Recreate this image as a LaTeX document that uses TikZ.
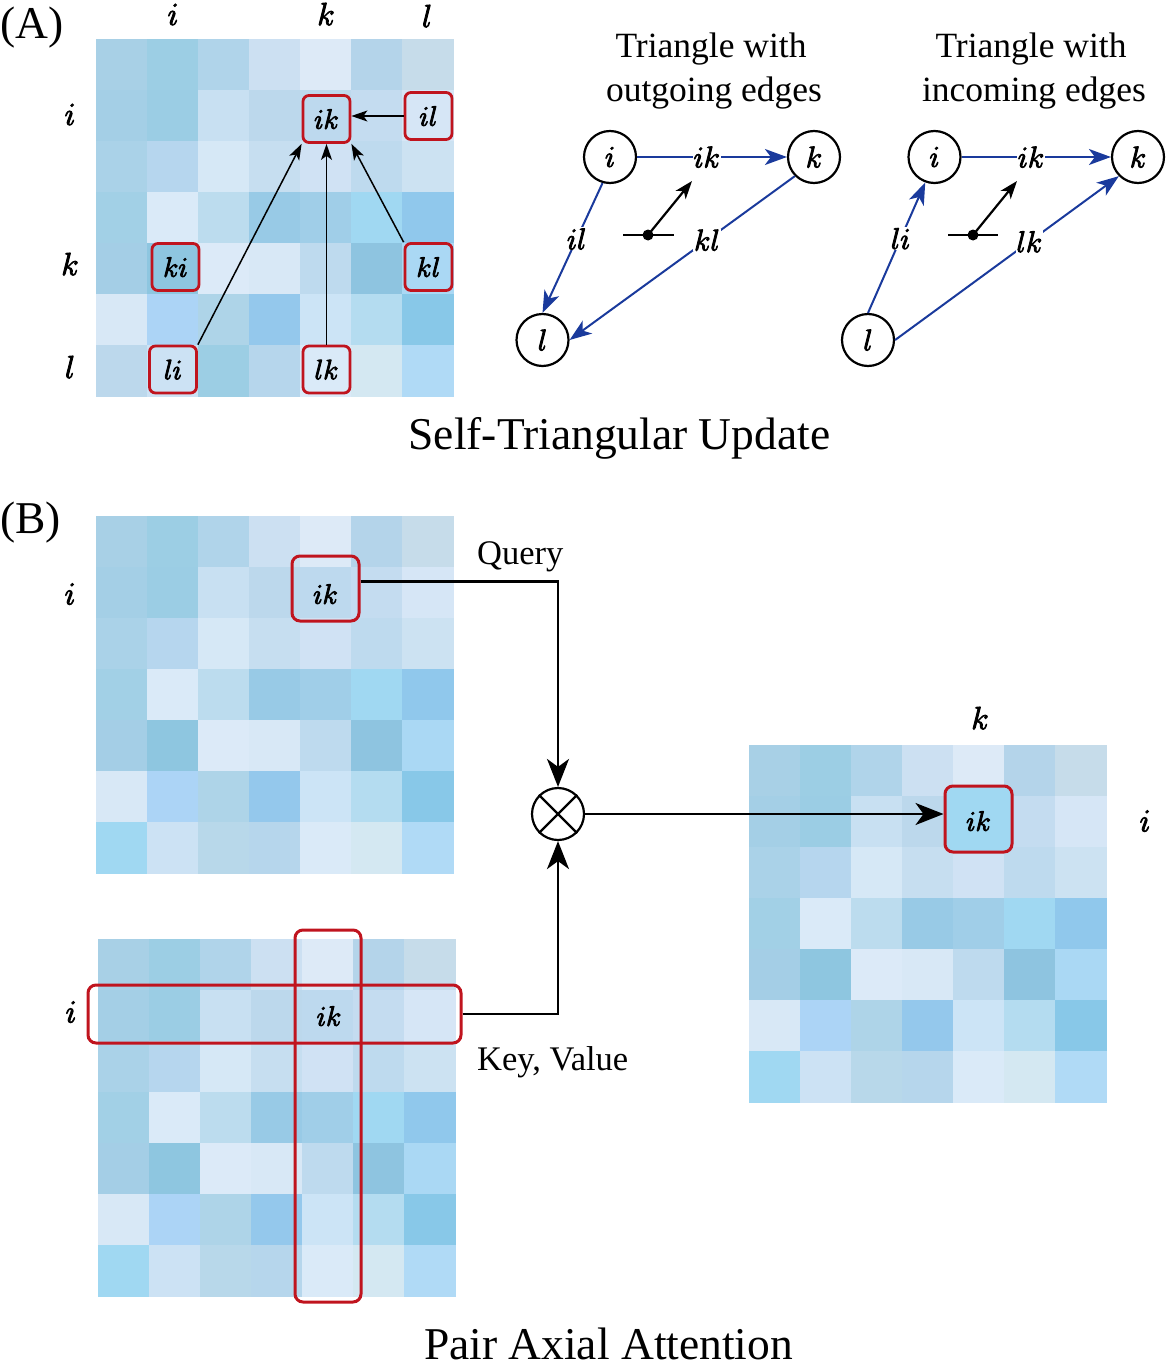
\RequirePackage{fix-cm}
\documentclass[tikz,border=0pt]{standalone}
\usepackage{fontspec}
\setmainfont{Liberation Serif}
\usetikzlibrary{arrows.meta}
\definecolor{boxred}{HTML}{C0141E}
\definecolor{edgeblue}{HTML}{1A3A9C}
\definecolor{hilite}{HTML}{A0D8F2}

\def\matA{A8D0E6,9CCEE4,B0D4EA,CCE0F2,DDEAF7,B4D4EA,C6DCEA,%
A4CFE6,9BCDE4,C8E0F2,BCD8EC,BDD9EE,C4DCF0,D6E6F6,%
AAD2E8,B6D6EE,D6E8F6,C6DEF0,D0E2F4,BEDAEE,CCE2F2,%
A2D0E6,DAEAF8,BCDCEE,98CAE6,A0CEE8,A0D8F2,90C8EC,%
A4CEE6,8EC6E0,DCEAF8,D8E8F6,BEDAEE,8EC4E0,AAD8F4,%
D8E8F6,ACD4F6,AED4E8,94C8EC,CCE4F6,B4DCF0,88C8E8,%
BCD8EC,CCE2F4,9CCEE4,B6D6EC,DAEAF8,D4E8F2,B0DAF6}
\def\matB{A8D0E6,9CCEE4,B0D4EA,CCE0F2,DDEAF7,B4D4EA,C6DCEA,%
A4CFE6,9BCDE4,C8E0F2,BCD8EC,BDD9EE,C4DCF0,D6E6F6,%
AAD2E8,B6D6EE,D6E8F6,C6DEF0,D0E2F4,BEDAEE,CCE2F2,%
A2D0E6,DAEAF8,BCDCEE,98CAE6,A0CEE8,A0D8F2,90C8EC,%
A4CEE6,8EC6E0,DCEAF8,D8E8F6,BEDAEE,8EC4E0,AAD8F4,%
D8E8F6,ACD4F6,AED4E8,94C8EC,CCE4F6,B4DCF0,88C8E8,%
A0D8F2,CCE2F4,B8D8EA,B6D6EC,DAEAF8,D4E8F2,B0DAF6}

\newcommand\drawcells[3]{%
  \foreach \hex [count=\n from 0] in #3 {%
    \pgfmathtruncatemacro\rr{(\n+0.5)/7}%
    \pgfmathtruncatemacro\cc{\n-7*\rr}%
    \definecolor{tmpc}{HTML}{\hex}%
    \fill[tmpc] ({#1+\cc*51},{#2+\rr*51}) rectangle ++(51.5,51.5);
  }%
}

\tikzset{
  heavy/.style={execute at begin node={\special{pdf:literal direct 2 Tr 0.9 w}},
                execute at end node={\special{pdf:literal direct 0 Tr}}},
  cellbox/.style={draw=boxred, line width=2.8pt, rounded corners=6pt, minimum width=47pt, minimum height=47pt, inner sep=0pt, font=\fontsize{28}{32}\selectfont, heavy},
  bigbox/.style={draw=boxred, line width=3pt, rounded corners=8pt, inner sep=0pt},
  celltext/.style={inner sep=0pt, font=\fontsize{28}{32}\selectfont, heavy},
  axlabel/.style={inner sep=0pt, font=\fontsize{32}{36}\selectfont, heavy},
  vertex/.style={draw, circle, line width=2.2pt, minimum size=52pt, inner sep=0pt, font=\fontsize{30}{34}\selectfont, heavy},
  elabel/.style={fill=white, inner sep=1pt, font=\fontsize{30}{34}\selectfont, heavy},
  bluearrow/.style={draw=edgeblue, line width=2pt, -{Stealth[length=22pt,width=16pt,inset=6pt]}},
  thinarrow/.style={line width=1.5pt, -{Stealth[length=16pt,width=11pt,inset=4pt]}},
  thickarrow/.style={line width=2.2pt, -{Stealth[length=28pt,width=22pt,inset=8pt]}},
  rotarrow/.style={line width=2.2pt, -{Stealth[length=18pt,width=13pt,inset=5pt]}},
  bigtitle/.style={font=\fontsize{45.5}{50}\selectfont},
  subtitle/.style={font=\fontsize{35.5}{44}\selectfont},
  sidelabel/.style={font=\fontsize{34.5}{40}\selectfont},
}

\begin{document}
\begin{tikzpicture}[x=1pt,y=-1pt]
\useasboundingbox (0,0) rectangle (1166,1370);

% ---------------- (A) ----------------
\node[bigtitle, anchor=base west, inner sep=0pt] (labA) at (0,39) {(A)};
\drawcells{96}{39}{\matA}
\node[axlabel] (Aci) at (173,14.5) {$i$};
\node[axlabel] (Ack) at (326,14) {$k$};
\node[axlabel] (Acl) at (427,16) {$l$};
\node[axlabel] (Ari) at (70,114.5) {$i$};
\node[axlabel] (Ark) at (70,264) {$k$};
\node[axlabel] (Arl) at (70,367) {$l$};

\node[cellbox] (Aik) at (326.5,119) {$ik$};
\node[cellbox] (Ail) at (428.5,116) {$il$};
\node[cellbox] (Aki) at (175.5,267) {$ki$};
\node[cellbox] (Akl) at (428.5,267) {$kl$};
\node[cellbox] (Ali) at (173,369.5) {$li$};
\node[cellbox] (Alk) at (326.5,369.5) {$lk$};

\draw[thinarrow] (Ail.west) -- (Ail.west -| Aik.east);
\draw[thinarrow] (Ali.north east) -- (Aik.south west);
\draw[thinarrow] (Alk.north) -- (Aik.south);
\draw[thinarrow] (Akl.north west) -- (Aik.south east);

\node[subtitle, anchor=base] (t1a) at (711,58) {Triangle with};
\node[subtitle, anchor=base] (t1b) at (714,102) {outgoing edges};
\node[subtitle, anchor=base] (t2a) at (1031,58) {Triangle with};
\node[subtitle, anchor=base] (t2b) at (1034,102) {incoming edges};

% left triangle (outgoing)
\node[vertex] (gi) at (610,157) {$i$};
\node[vertex] (gk) at (814,157) {$k$};
\node[vertex] (gl) at (542.5,340) {$l$};
\draw[bluearrow] (gi) -- node[elabel, pos=0.465] (gik) {$ik$} (gk);
\draw[bluearrow] (gi.254) -- node[elabel, pos=0.43] (gil) {$il$} (gl.north);
\draw[bluearrow] (gk.225) -- node[elabel, pos=0.39] (gkl) {$kl$} (gl.east);
\coordinate (ga) at (623,235);
\coordinate (gb) at (674,235);
\coordinate (gc) at (648,235);
\coordinate (gd) at (692,181);
\draw[line width=2.5pt] (ga) -- (gb);
\fill (gc) circle (5.5pt);
\draw[rotarrow] (gc) -- (gd);

% right triangle (incoming)
\node[vertex] (hi) at (934.5,157) {$i$};
\node[vertex] (hk) at (1138,157) {$k$};
\node[vertex] (hl) at (868,340) {$l$};
\draw[bluearrow] (hi) -- node[elabel, pos=0.465] (hik) {$ik$} (hk);
\draw[bluearrow] (hl.north) -- node[elabel, pos=0.57] (hli) {$li$} (hi.250);
\draw[bluearrow] (hl.east) -- node[elabel, pos=0.6] (hlk) {$lk$} (hk.225);
\coordinate (ha) at (948,235);
\coordinate (hb) at (998,235);
\coordinate (hc) at (973,235);
\coordinate (hd) at (1017,181);
\draw[line width=2.5pt] (ha) -- (hb);
\fill (hc) circle (5.5pt);
\draw[rotarrow] (hc) -- (hd);

\node[bigtitle, anchor=base] (tA) at (619.5,449) {Self-Triangular Update};

% ---------------- (B) ----------------
\node[bigtitle, anchor=base west, inner sep=0pt] (labB) at (0,533) {(B)};

% query matrix
\drawcells{96}{516}{\matB}
\node[axlabel] (Bri) at (70,594) {$i$};
\node[bigbox, minimum width=67pt, minimum height=65pt] (qbox) at (325.5,588.5) {};
\node[celltext] (qik) at (325.5,594) {$ik$};
\node[sidelabel, anchor=base west, inner sep=0pt] (qlab) at (477,564) {Query};

% product
\node[draw, circle, line width=2.2pt, minimum size=52pt, inner sep=0pt] (ot) at (558,814) {};
\draw[line width=2.2pt] (ot.45) -- (ot.225) (ot.135) -- (ot.315);

% key/value matrix
\drawcells{98}{939}{\matB}
\node[axlabel] (Bri2) at (71,1012) {$i$};
\node[bigbox, minimum width=66pt, minimum height=372pt] (vrect) at (328,1116) {};
\node[bigbox, minimum width=373pt, minimum height=58pt] (hrect) at (274.5,1014) {};
\node[celltext] (bik) at (329,1016) {$ik$};
\node[sidelabel, anchor=base west, inner sep=0pt] (kvlab) at (477,1070) {Key, Value};

% output matrix
\drawcells{749}{745}{\matB}
\node[axlabel] (Rck) at (980,718) {$k$};
\node[axlabel] (Rri) at (1145,821) {$i$};
\node[bigbox, fill=hilite, minimum width=67pt, minimum height=66pt] (rbox) at (978.5,819) {};
\node[celltext] (rik) at (978.5,821) {$ik$};

\draw[thickarrow] ([yshift=7pt]qbox.east) -| (ot.north);
\draw[thickarrow] (hrect.east) -| (ot.south);
\draw[thickarrow] (ot.east) -- (ot.east -| rbox.west);

\node[bigtitle, anchor=base, inner sep=0pt] (tB) at (608.5,1359) {Pair Axial Attention};
\end{tikzpicture}
\end{document}
